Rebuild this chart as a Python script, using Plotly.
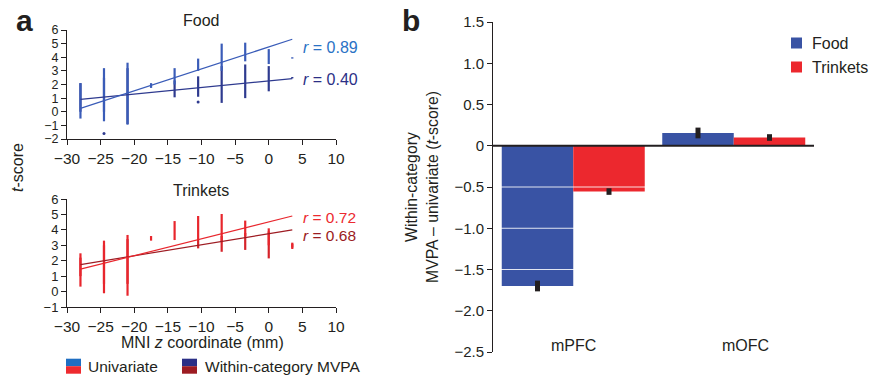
import plotly.graph_objects as go

# ---------------- data ----------------
z_coords = [-28, -24.5, -21, -17.5, -14, -10.5, -7, -3.5, 0, 3.5]

# Food: vertical spread of the voxel t-scores at each z (low, high)
food_uni_lo = [-0.5, -0.7, -0.95, 1.75, 2.0, 3.0, 3.0, 3.7, 3.5, 3.9]
food_uni_hi = [2.1, 3.2, 3.6, 2.1, 3.2, 3.9, 5.0, 5.07, 4.6, 4.0]
food_mvpa_lo = [0.0, 0.0, -0.9, None, 1.06, 1.1, 0.65, 1.0, 1.5, 2.45]
food_mvpa_hi = [2.1, 2.5, 3.2, None, 2.3, 2.6, 3.35, 3.47, 3.35, 2.55]
food_extra_z = [-24.5, -10.5]
food_extra_t = [-1.6, 0.72]

# Trinkets
trk_uni_lo = [0.32, -0.11, -0.27, 3.3, 3.34, 3.34, 3.2, 3.6, 3.0, 2.76]
trk_uni_hi = [2.48, 3.3, 3.67, 3.6, 4.57, 4.9, 5.03, 4.6, 4.1, 3.17]
trk_mvpa_lo = [1.0, 0.5, 0.5, None, None, 2.8, 2.58, 2.7, 2.15, 2.85]
trk_mvpa_hi = [2.2, 3.0, 3.4, None, None, 3.4, 3.6, 3.8, 3.9, 3.1]

# regression lines (end points)
fit_z = [-28, 3.5]
food_uni_fit = [0.25, 5.32]
food_mvpa_fit = [0.91, 2.43]
trk_uni_fit = [1.45, 4.9]
trk_mvpa_fit = [1.75, 4.0]
r_labels = ["0.89", "0.40", "0.72", "0.68"]

# panel b
regions = ["mPFC", "mOFC"]
food_diff = [-1.70, 0.155]
food_err = [0.065, 0.065]
trinket_diff = [-0.555, 0.10]
trinket_err = [0.04, 0.04]
b_tickvals = [1.5, 1.0, 0.5, 0, -0.5, -1.0, -1.5, -2.0, -2.5]
b_ticktext = ["1.5", "1.0", "0.5", "0", "\u22120.5", "\u22121.0", "\u22121.5", "\u22122.0", "\u22122.5"]

# ---------------- styling ----------------
W, H = 877, 376
FONT = "Liberation Sans, Arial, Helvetica, sans-serif"
AX = "#231f20"
C_FOOD_UNI = "#3a5cb8"
C_FOOD_MVPA = "#2e3a8f"
C_TRK_UNI = "#e8262d"
C_TRK_MVPA = "#d6232a"
C_TRK_MVPA_LINE = "#9e1c23"
C_BLUE_BAR = "#3953a4"
C_RED_BAR = "#ec282e"


def px(x):
    return x / W


def py(y):
    return 1 - y / H


def segments(zs, lo, hi):
    xs, ys = [], []
    for z, a, b in zip(zs, lo, hi):
        if a is None:
            continue
        xs += [z, z, None]
        ys += [a, b, None]
    return xs, ys


fig = go.Figure()


def add_dots(lo, hi, color, xa, ya):
    xs, ys = segments(z_coords, lo, hi)
    fig.add_trace(go.Scatter(x=xs, y=ys, mode="lines", line=dict(color=color, width=2.2),
                             xaxis=xa, yaxis=ya, showlegend=False, hoverinfo="skip"))


# Food panel
add_dots(food_mvpa_lo, food_mvpa_hi, C_FOOD_MVPA, "x", "y")
add_dots(food_uni_lo, food_uni_hi, C_FOOD_UNI, "x", "y")
fig.add_trace(go.Scatter(x=food_extra_z, y=food_extra_t, mode="markers",
                         marker=dict(color=C_FOOD_MVPA, size=3), xaxis="x", yaxis="y", showlegend=False))
fig.add_trace(go.Scatter(x=fit_z, y=food_mvpa_fit, mode="lines", line=dict(color=C_FOOD_MVPA, width=1.2),
                         xaxis="x", yaxis="y", showlegend=False))
fig.add_trace(go.Scatter(x=fit_z, y=food_uni_fit, mode="lines", line=dict(color=C_FOOD_UNI, width=1.2),
                         xaxis="x", yaxis="y", showlegend=False))

# Trinkets panel
add_dots(trk_mvpa_lo, trk_mvpa_hi, C_TRK_MVPA, "x2", "y2")
add_dots(trk_uni_lo, trk_uni_hi, C_TRK_UNI, "x2", "y2")
fig.add_trace(go.Scatter(x=fit_z, y=trk_mvpa_fit, mode="lines", line=dict(color=C_TRK_MVPA_LINE, width=1.2),
                         xaxis="x2", yaxis="y2", showlegend=False))
fig.add_trace(go.Scatter(x=fit_z, y=trk_uni_fit, mode="lines", line=dict(color=C_TRK_UNI, width=1.2),
                         xaxis="x2", yaxis="y2", showlegend=False))

# Bars
err_style = dict(type="data", thickness=5, width=0, color=AX)
fig.add_trace(go.Bar(x=regions, y=food_diff, name="Food", marker=dict(color=C_BLUE_BAR, line=dict(width=0)),
                     error_y=dict(array=food_err, **err_style), xaxis="x3", yaxis="y3", showlegend=False))
fig.add_trace(go.Bar(x=regions, y=trinket_diff, name="Trinkets", marker=dict(color=C_RED_BAR, line=dict(width=0)),
                     error_y=dict(array=trinket_err, **err_style), xaxis="x3", yaxis="y3", showlegend=False))

axis_common = dict(showline=True, linecolor=AX, linewidth=1, ticks="outside", ticklen=5, tickcolor=AX,
                   tickwidth=1, showgrid=False, zeroline=False, automargin=False)

xdom_a = [px(67), px(336)]
fig.update_layout(
    width=W, height=H, margin=dict(l=0, r=0, t=0, b=0, autoexpand=False),
    paper_bgcolor="white", plot_bgcolor="white",
    font=dict(family=FONT, size=16, color=AX),
    barmode="group", bargap=0.109, bargroupgap=0,
    xaxis=dict(domain=xdom_a, anchor="y", range=[-30, 10], tickvals=[-30, -25, -20, -15, -10, -5, 0, 5, 10],
               tickfont=dict(size=15.5), **axis_common),
    yaxis=dict(domain=[py(139), py(30)], anchor="x", range=[-2, 6], dtick=1, tickfont=dict(size=12.5), **axis_common),
    xaxis2=dict(domain=xdom_a, anchor="y2", range=[-30, 10], tickvals=[-30, -25, -20, -15, -10, -5, 0, 5, 10],
                tickfont=dict(size=15.5), **axis_common),
    yaxis2=dict(domain=[py(307), py(199)], anchor="x2", range=[-1, 6], dtick=1, tickfont=dict(size=13), **axis_common),
    xaxis3=dict(domain=[px(493), px(814)], anchor="y3", range=[-0.5, 1.5], showline=False, ticks="",
                showticklabels=False, showgrid=False, zeroline=False, automargin=False),
    yaxis3=dict(domain=[py(352), py(22)], anchor="x3", range=[-2.5, 1.5], tickvals=b_tickvals, ticktext=b_ticktext,
                tickfont=dict(size=15), **axis_common),
)

shapes = []
# white grid lines visible over the bars
for v in [-0.5, -1.0, -1.5]:
    shapes.append(dict(type="line", xref="paper", yref="y3", x0=px(493), x1=px(814), y0=v, y1=v,
                       line=dict(color="rgba(255,255,255,0.85)", width=1), layer="above"))
# zero line
shapes.append(dict(type="line", xref="paper", yref="y3", x0=px(493), x1=px(814), y0=0, y1=0,
                   line=dict(color=AX, width=2.2), layer="above"))
# panel b legend swatches
for yc, col in [(43, C_BLUE_BAR), (67, C_RED_BAR)]:
    shapes.append(dict(type="rect", xref="paper", yref="paper", x0=px(791), x1=px(802), y0=py(yc + 5.5),
                       y1=py(yc - 5.5), fillcolor=col, line=dict(width=0)))
# panel a legend swatches (two-tone)
for x0, top, bot in [(66, "#1f6ec2", "#ee2a2f"), (182, "#2b2f86", "#9d1c22")]:
    shapes.append(dict(type="rect", xref="paper", yref="paper", x0=px(x0), x1=px(x0 + 15), y0=py(366.2),
                       y1=py(358.7), fillcolor=top, line=dict(width=0)))
    shapes.append(dict(type="rect", xref="paper", yref="paper", x0=px(x0), x1=px(x0 + 15), y0=py(373.7),
                       y1=py(366.2), fillcolor=bot, line=dict(width=0)))

ann = []


def text(x, y, s, size=16, color=AX, xanchor="center", angle=0, **kw):
    ann.append(dict(x=px(x), y=py(y), xref="paper", yref="paper", text=s, showarrow=False,
                    font=dict(family=FONT, size=size, color=color), xanchor=xanchor, yanchor="middle",
                    textangle=angle, **kw))


text(24, 20, "<b>a</b>", size=30)
text(411, 20, "<b>b</b>", size=30)
text(201, 21, "Food")
text(201, 190, "Trinkets")
text(17, 168, "<i>t</i>-score", angle=-90)
text(202, 342, "MNI <i>z</i> coordinate (mm)")
text(301, 48, "<i>r</i> = " + r_labels[0], color="#2a72c5", xanchor="left")
text(301, 79, "<i>r</i> = " + r_labels[1], color="#2b2f86", xanchor="left")
text(301, 217, "<i>r</i> = " + r_labels[2], size=15.5, color="#ec2a30", xanchor="left")
text(301, 235, "<i>r</i> = " + r_labels[3], size=15.5, color="#9b1c22", xanchor="left")
text(86, 366, "Univariate", size=15.5, xanchor="left")
text(203, 366, "Within-category MVPA", size=15.5, xanchor="left")
text(810, 43, "Food", xanchor="left")
text(810, 67, "Trinkets", xanchor="left")
text(422, 187, "Within-category<br>MVPA \u2013 univariate (<i>t</i>-score)", size=15.8, angle=-90)
for reg, sh in zip(regions, [0, 12]):
    ann.append(dict(x=reg, y=py(345), xref="x3", yref="paper", xshift=sh, text=reg, showarrow=False,
                    font=dict(family=FONT, size=16, color=AX), xanchor="center", yanchor="middle"))

fig.update_layout(shapes=shapes, annotations=ann)
fig.write_html("out.html", config={"displayModeBar": False},
               post_script="document.body.style.margin='0';document.body.style.overflow='hidden';")
